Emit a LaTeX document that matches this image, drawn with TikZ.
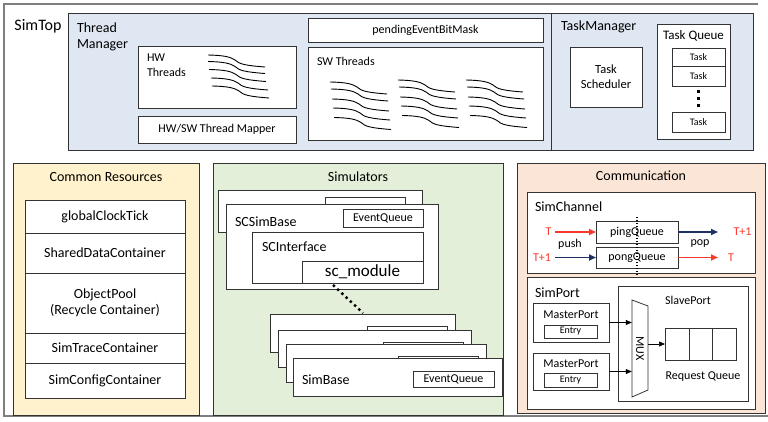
\documentclass[tikz,border=0pt]{standalone}
\usepackage{fontspec}
\setmainfont{Carlito}
\usetikzlibrary{arrows.meta,calc}
\definecolor{tmblue}{HTML}{DEE7F2}
\definecolor{cryel}{HTML}{FFF2CC}
\definecolor{simgreen}{HTML}{E3EFD9}
\definecolor{compeach}{HTML}{FBE5D6}
\definecolor{linec}{HTML}{333333}
\definecolor{outerc}{HTML}{7F7F7F}
\definecolor{tred}{HTML}{F83A2C}
\definecolor{tblue}{HTML}{1F3064}
\newcommand\fsA{\fontsize{14}{16}\selectfont}
\newcommand\fsB{\fontsize{12}{15}\selectfont}
\newcommand\fsC{\fontsize{10}{12}\selectfont}
\newcommand\rbox[6][]{\node[bx,#1,minimum width={(#5-#3)*1pt},minimum height={(#6-#4)*1pt}] (#2) at (#3,#4) {};}
\newcommand\tbox[7][]{\node[bx,#1,minimum width={(#5-#3)*1pt},minimum height={(#6-#4)*1pt}] (#2) at (#3,#4) {#7};}
\tikzset{
  bx/.style={draw=linec, line width=0.8pt, fill=white, inner sep=0pt, outer sep=0pt, anchor=north west, align=center, font=\fsB},
  lbl/.style={inner sep=0pt, outer sep=0pt, font=\fsA},
  slbl/.style={inner sep=0pt, outer sep=0pt, font=\fsB},
  redarr/.style={draw=tred, line width=1.6pt, -{Triangle[length=7pt,width=6pt]}},
  bluearr/.style={draw=tblue, line width=1.6pt, -{Triangle[length=7pt,width=6pt]}},
  blkarr/.style={draw=black, line width=0.6pt, -{Triangle[length=6pt,width=5pt]}},
  thrline/.style={draw=black, line width=0.9pt},
  pics/onethr/.style={code={\draw[thrline] (0,0) .. controls (14,0.3) and (22,1.5) .. (27,5) .. controls (31,9) and (37,10.5) .. (57,12);}},
  pics/hwthr/.style={code={
    \pic at (0,0) {onethr}; \pic at (0,6.5) {onethr}; \pic at (1,14.5) {onethr};
    \pic at (3,23) {onethr}; \pic at (4,31) {onethr};}},
  pics/swthr/.style={code={
    \pic at (0,0) {onethr}; \pic at (1,7) {onethr}; \pic at (2,17) {onethr};
    \pic at (3,26) {onethr}; \pic at (4,35.5) {onethr};}},
}
\begin{document}
\begin{tikzpicture}[x=1pt,y=-1pt]
\useasboundingbox (0,0) rectangle (768,422);
% outer SimTop
\draw[draw=outerc, line width=1.4pt] (758,4) -- (4,4) -- (4,416) -- (768,416);
\node[lbl, font=\fontsize{16}{18}\selectfont] (simtop) at (38,26) {SimTop};

% Thread Manager
\rbox[fill=tmblue]{tm}{68}{13}{551}{150}
\node[lbl, anchor=north west, align=left] (tmlbl) at (77,23) {Thread\\Manager};
\rbox{hw}{138}{46}{296}{108}
\node[slbl, anchor=north west, align=left] (hwlbl) at (147,54) {HW\\Threads};
\pic at (208,55) {hwthr};
\tbox{mapper}{138}{116}{296}{143}{HW/SW Thread Mapper}
\tbox{pend}{308}{18}{543}{42}{pendingEventBitMask}
\rbox{sw}{308}{47}{543}{140}
\node[slbl, anchor=west] (swlbl) at (317,61) {SW Threads};
\pic at (330,82) {swthr};
\pic at (398,80) {swthr};
\pic at (466,80) {swthr};

% Task Manager
\rbox[fill=tmblue]{tkm}{551}{13}{753}{150}
\node[lbl, anchor=west] (tkmlbl) at (561,27) {TaskManager};
\tbox[font=\fontsize{12.5}{15}\selectfont]{sched}{570}{47}{642}{107}{Task\\Scheduler}
\rbox{tq}{657}{24}{730}{139}
\node[slbl, font=\fontsize{13}{15}\selectfont] (tqlbl) at (693.5,36) {Task Queue};
\tbox[font=\fsC]{task1}{672}{48}{725}{66}{Task}
\tbox[font=\fsC]{task2}{672}{66}{725}{86}{Task}
\tbox[font=\fsC]{task3}{672}{112}{725}{132}{Task}
\coordinate (qd1) at (698,90);
\coordinate (qd2) at (698,107);
\draw[line width=3pt, dash pattern=on 3pt off 4pt] (qd1) -- (qd2);

% Common Resources
\rbox[fill=cryel]{cr}{13}{163}{199}{415}
\node[lbl] (crlbl) at (106,177) {Common Resources};
\tbox[font=\fsA]{r1}{25}{200}{185}{233}{globalClockTick}
\tbox[font=\fsA]{r2}{25}{233}{185}{273}{SharedDataContainer}
\tbox[font=\fsA]{r3}{25}{273}{185}{333}{ObjectPool\\(Recycle Container)}
\tbox[font=\fsA]{r4}{25}{333}{185}{363}{SimTraceContainer}
\tbox[font=\fsA]{r5}{25}{363}{185}{398}{SimConfigContainer}

% Simulators
\rbox[fill=simgreen]{sim}{213}{163}{503}{415}
\node[lbl] (simlbl) at (358,177) {Simulators};
\rbox{scback}{218}{190}{422}{232}
\rbox{scbackeq}{325}{197}{405}{215}
\rbox{scfront}{226}{204}{438}{289}
\node[lbl, anchor=west] (scsb) at (235,222) {SCSimBase};
\tbox{eq1}{343}{209}{423}{227}{EventQueue}
\rbox{sci}{252}{232}{423}{283}
\node[lbl, anchor=west] (scil) at (262,247) {SCInterface};
\tbox[font=\fontsize{17}{19}\selectfont]{scm}{302}{261}{423}{283}{sc\_module}
\rbox{b1}{270}{314}{455}{352}
\rbox{b1eq}{367}{326}{447}{343}
\rbox{b2}{278}{330}{471}{367}
\rbox{b2eq}{383}{342}{463}{359}
\rbox{b3}{286}{344}{486}{382}
\rbox{b3eq}{398}{356}{478}{373}
\rbox{b4}{293}{358}{502}{396}
\tbox{eq2}{413}{371}{494}{387}{EventQueue}
\node[lbl, anchor=west] (sbl) at (302,380) {SimBase};
\coordinate (dA) at (333,285);
\coordinate (dB) at (363,313);
\draw[line width=2.4pt, dash pattern=on 2.4pt off 3.4pt] (dA) -- (dB);

% Communication
\rbox[fill=compeach]{comm}{517}{163}{765}{413}
\node[lbl] (commlbl) at (641,176) {Communication};
\rbox{chan}{527}{192}{755}{273}
\node[lbl, anchor=west] (chanlbl) at (535,207) {SimChannel};
\tbox{ping}{596}{221}{678}{243}{pingQueue}
\tbox{pong}{596}{247}{678}{268}{pongQueue}
\node[slbl, text=tred] (tA) at (548.5,232) {T};
\node[slbl, text=tred] (tB) at (542,257.5) {T+1};
\node[slbl, text=tred] (tC) at (742.5,232) {T+1};
\node[slbl, text=tred] (tD) at (731,257.5) {T};
\node[slbl] (push) at (570,244) {push};
\node[slbl] (pop) at (700,244) {pop};
\coordinate (sA) at (555,232);
\coordinate (sB) at (555,257.5);
\coordinate (eC) at (718,232);
\coordinate (eD) at (718,257.5);
\draw[redarr] (sA) -- (ping.west);
\draw[bluearr] (sB) -- (pong.west);
\draw[bluearr] (ping.east) -- (eC);
\draw[redarr] (pong.east) -- (eD);

\rbox{port}{527}{277}{755}{409}
\node[lbl, anchor=west] (portlbl) at (535,293) {SimPort};
\rbox{mp1}{533}{303}{609}{342}
\node[slbl] (mp1l) at (571,315) {MasterPort};
\tbox[font=\fsC]{en1}{544}{325}{597}{338}{Entry}
\rbox{mp2}{533}{353}{609}{390}
\node[slbl] (mp2l) at (571,364) {MasterPort};
\tbox[font=\fsC]{en2}{544}{373}{597}{387}{Entry}
\rbox{slave}{618}{286}{748}{401}
\node[slbl] (slavel) at (688,300) {SlavePort};
\draw[draw=linec, line width=0.8pt, fill=white] (632,300) -- (648,306) -- (648,390) -- (632,397) -- cycle;
\node[inner sep=0pt, minimum width=16pt, minimum height=97pt, font=\fsB] (mux) at (640,348.5) {\rotatebox{-90}{MUX}};
\rbox{q1}{665}{328}{689}{360}
\rbox{q2}{689}{328}{712}{360}
\rbox{q3}{712}{328}{736}{360}
\node[slbl] (rql) at (703,377) {Request Queue};
\draw[blkarr] (mp1.east) -- (mp1.east -| mux.west);
\draw[blkarr] (mp2.east) -- (mp2.east -| mux.west);
\draw[blkarr] (mux.east |- q1.west) -- (q1.west);

\coordinate (vd1) at (637,217);
\coordinate (vd2) at (637,276);
\draw[line width=1.3pt, dash pattern=on 1.3pt off 1.7pt] (vd1) -- (vd2);
\end{tikzpicture}
\end{document}
